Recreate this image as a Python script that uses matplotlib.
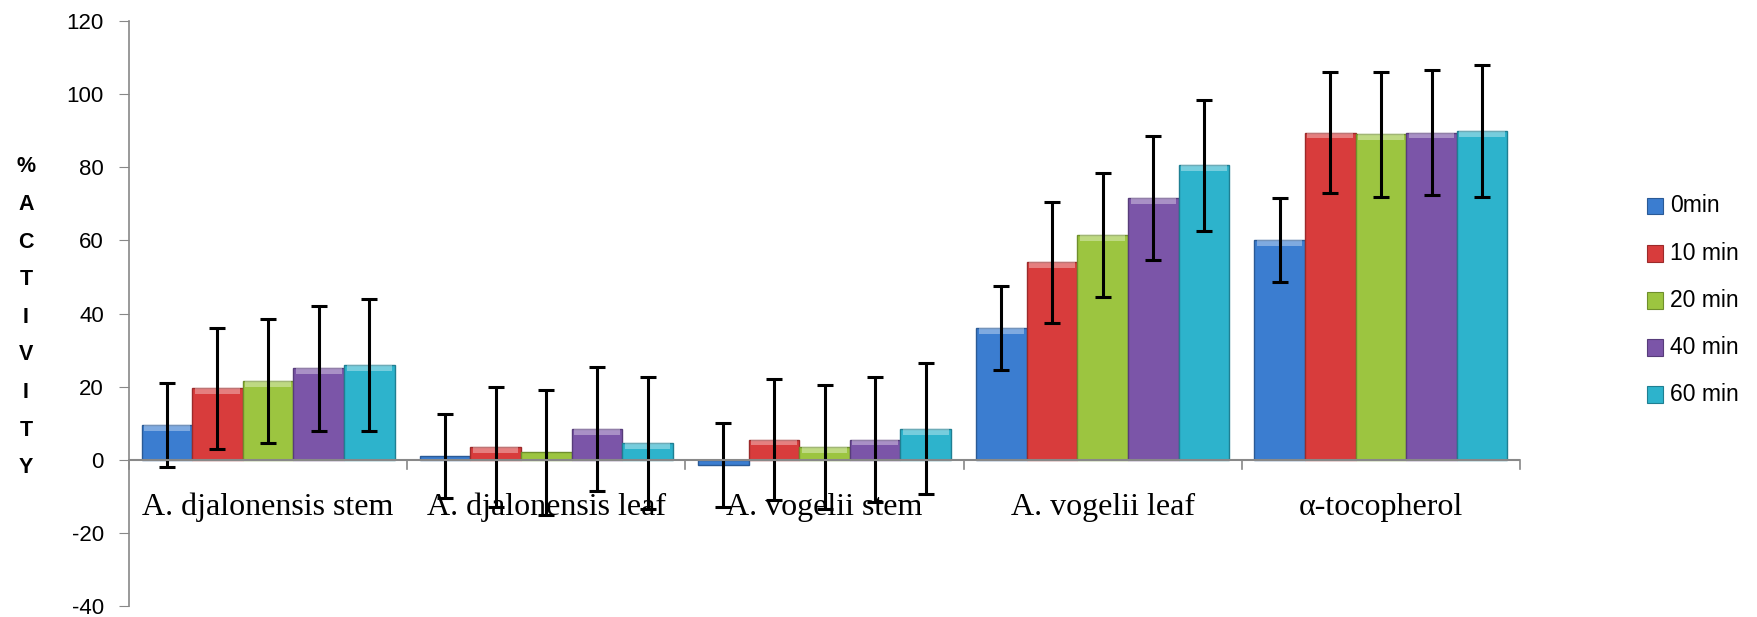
import numpy as np
import matplotlib
matplotlib.use("Agg")
import matplotlib.pyplot as plt
from matplotlib.lines import Line2D

plt.rcParams["axes.unicode_minus"] = False

categories = ["A. djalonensis stem", "A. djalonensis leaf", "A. vogelii stem",
              "A. vogelii leaf", "α-tocopherol"]
series = ["0min", "10 min", "20 min", "40 min", "60 min"]
values = {
    "0min":   [9.5, 1.0, -1.5, 36.0, 60.0],
    "10 min": [19.5, 3.5, 5.5, 54.0, 89.5],
    "20 min": [21.5, 2.0, 3.5, 61.5, 89.0],
    "40 min": [25.0, 8.5, 5.5, 71.5, 89.5],
    "60 min": [26.0, 4.5, 8.5, 80.5, 90.0],
}
errors = {"0min": 11.5, "10 min": 16.5, "20 min": 17.0, "40 min": 17.0, "60 min": 18.0}
colors = ["#3b7dd0", "#d83c3c", "#9cc540", "#7b55a8", "#2db3cc"]
edges = ["#2a5a96", "#9c2a2a", "#6f8f2c", "#573c7a", "#1f7f92"]

fig = plt.figure(figsize=(17.58, 6.17), dpi=100)
ax = fig.add_axes([129 / 1758, 1 - 606 / 617, (1520 - 129) / 1758, (606 - 21) / 617])

n = len(series)
bw = 0.182
x = np.arange(len(categories))
for i, s in enumerate(series):
    pos = x + (i - (n - 1) / 2) * bw
    ax.bar(pos, values[s], width=bw, color=colors[i], edgecolor=edges[i],
           linewidth=1.0, zorder=2)
    # light bevel along the top of each bar
    for p, v in zip(pos, values[s]):
        if v > 2:
            ax.bar(p, 1.6, bottom=v - 1.6, width=bw * 0.9, color="white", alpha=0.35,
                   linewidth=0, zorder=3)
    ax.errorbar(pos, values[s], yerr=errors[s], fmt="none", ecolor="black",
                elinewidth=2.2, capsize=6, capthick=2.2, zorder=4)

ax.set_xlim(-0.5, len(categories) - 0.5)
ax.set_ylim(-40, 120)
ax.set_yticks(range(-40, 121, 20))
ax.tick_params(axis="y", direction="out", length=7, color="#888888", labelsize=16, pad=11)
for lab in ax.get_yticklabels():
    lab.set_fontfamily("Liberation Sans")
ax.set_xticks([])

for sp in ["top", "right", "bottom"]:
    ax.spines[sp].set_visible(False)
ax.spines["left"].set_color("#888888")
ax.spines["left"].set_linewidth(1.2)

# zero line with category boundary ticks
ax.axhline(0, color="#888888", lw=1.5, zorder=5)
for b in np.arange(-0.5, len(categories), 1.0):
    ax.add_line(Line2D([b, b], [0, -2.5], color="#888888", lw=1.2, zorder=5, clip_on=False))

for xi, c in zip(x, categories):
    ax.text(xi, -13.0, c, ha="center", va="center", fontsize=23,
            family="Liberation Serif", zorder=1)

# stacked vertical axis title
letters = ["%", "A", "C", "T", "I", "V", "I", "T", "Y"]
for k, ch in enumerate(letters):
    fig.text(26 / 1758, 1 - (167 + k * 37.6) / 617, ch, ha="center", va="center",
             fontsize=15.5, fontweight="bold", family="Liberation Sans")

# legend
for i, s in enumerate(series):
    yy = 1 - (206 + i * 47.2) / 617
    fig.patches.append(plt.Rectangle((1655 / 1758 - 0.0047, yy - 0.0135), 0.0094, 0.027,
                                     transform=fig.transFigure, facecolor=colors[i],
                                     edgecolor=edges[i], lw=0.8))
    fig.text(1670 / 1758, yy, s, ha="left", va="center", fontsize=16.5,
             family="Liberation Sans")

fig.savefig("out.png", dpi=100)
